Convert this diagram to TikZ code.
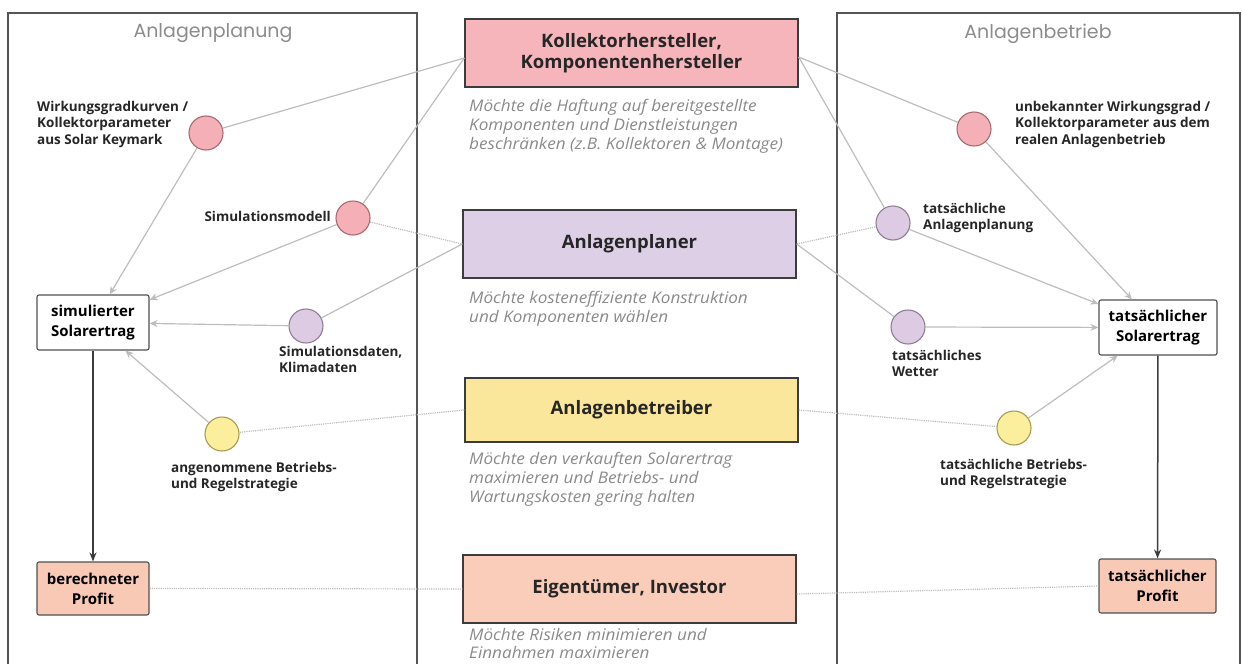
\documentclass[tikz,border=0pt]{standalone}
\usepackage{fontspec}
\setmainfont{Open Sans}
\newfontfamily\titlefont{Poppins}
\newfontfamily\descfont[FakeStretch=1.07]{Open Sans}
\usetikzlibrary{arrows.meta}
\definecolor{framec}{HTML}{555555}
\definecolor{linec}{HTML}{BDBDBD}
\definecolor{darkc}{HTML}{3C3C3C}
\definecolor{descc}{HTML}{8A8A8A}
\definecolor{titlec}{HTML}{8C8C8C}
\definecolor{labc}{HTML}{262626}
\definecolor{kfill}{HTML}{F6B5BA}
\definecolor{pfill}{HTML}{DDD0E6}
\definecolor{bfill}{HTML}{FBE79C}
\definecolor{efill}{HTML}{F9CDBA}
\definecolor{pinkfill}{HTML}{F4B0B6}
\definecolor{pinkdraw}{HTML}{A86A72}
\definecolor{lavfill}{HTML}{DCCBE3}
\definecolor{lavdraw}{HTML}{8F7E96}
\definecolor{yelfill}{HTML}{FBEE9C}
\definecolor{yeldraw}{HTML}{A89A50}
\definecolor{proffill}{HTML}{F8C9B5}
\tikzset{
  actor/.style={draw=darkc, line width=1.4pt, minimum width=333pt, minimum height=68pt, inner sep=0pt, align=center, font=\fontsize{18.5}{21}\selectfont\bfseries, text=black!85},
  desc/.style={anchor=north west, inner sep=0pt, align=left, text=descc, font=\descfont\fontsize{16}{19}\selectfont\itshape},
  res/.style={draw=darkc!90, line width=1.1pt, rounded corners=2pt, minimum width=112pt, minimum height=55pt, inner sep=0pt, align=center, font=\fontsize{15}{20}\selectfont\bfseries, text=black},
  dot/.style={circle, line width=1.1pt, minimum size=34pt, inner sep=0pt},
  lab/.style={inner sep=0pt, align=left, text=labc, font=\fontsize{13.5}{16.5}\selectfont\bfseries},
  conn/.style={draw=linec, line width=1.2pt},
  dconn/.style={draw=linec, line width=1.2pt, densely dotted},
  arr/.style={draw=linec, line width=1.2pt, -{Stealth[length=8pt,width=7pt]}},
  darr/.style={draw=darkc, line width=1.5pt, -{Stealth[length=9pt,width=7pt]}},
  framebox/.style={draw=framec, line width=2pt},
  ftitle/.style={text=titlec, font=\titlefont\fontsize{19}{22}\selectfont, inner sep=0pt}
}
\begin{document}
\begin{tikzpicture}[x=1pt,y=-1pt]
\useasboundingbox (0,0) rectangle (1243,664);
% frames
\draw[framebox] (8,672) -- (8,13) -- (417,13) -- (417,672);
\draw[framebox] (837,672) -- (837,13) -- (1240,13) -- (1240,672);
\node[ftitle] (tl) at (213,33) {Anlagenplanung};
\node[ftitle] (tr) at (1038,34) {Anlagenbetrieb};
% actors
\node[actor, fill=kfill] (k) at (631.5,53) {Kollektorhersteller,\\Komponentenhersteller};
\node[desc] (kd) at (469,99) {Möchte die Haftung auf bereitgestellte\\Komponenten und Dienstleistungen\\beschränken (z.B. Kollektoren \& Montage)};
\node[actor, fill=pfill] (p) at (629.5,244) {Anlagenplaner};
\node[desc] (pd) at (469,291) {Möchte kosteneffiziente Konstruktion\\und Komponenten wählen};
\node[actor, fill=bfill, minimum height=64pt] (b) at (631.5,410) {Anlagenbetreiber};
\node[desc] (bd) at (469,452) {Möchte den verkauften Solarertrag\\maximieren und Betriebs- und\\Wartungskosten gering halten};
\node[actor, fill=efill] (e) at (629.5,589) {Eigentümer, Investor};
\node[desc, font=\descfont\fontsize{16}{18}\selectfont\itshape] (ed) at (469,628) {Möchte Risiken minimieren und\\Einnahmen maximieren};
% result boxes
\node[res, fill=white] (sim) at (93,322.5) {simulierter\\Solarertrag};
\node[res, fill=proffill, minimum height=53pt] (bp) at (93,588.5) {berechneter\\Profit};
\node[res, fill=white, minimum width=118pt] (ts) at (1158,327.5) {tatsächlicher\\Solarertrag};
\node[res, fill=proffill, minimum width=117pt, minimum height=54pt] (tp) at (1157.5,586) {tatsächlicher\\Profit};
% circles
\node[dot, fill=pinkfill, draw=pinkdraw] (c1) at (206,133) {};
\node[dot, fill=pinkfill, draw=pinkdraw] (c2) at (353,218) {};
\node[dot, fill=lavfill, draw=lavdraw] (c3) at (306,326) {};
\node[dot, fill=yelfill, draw=yeldraw] (c4) at (222,434) {};
\node[dot, fill=pinkfill, draw=pinkdraw] (d1) at (974,129) {};
\node[dot, fill=lavfill, draw=lavdraw] (d2) at (893,223) {};
\node[dot, fill=lavfill, draw=lavdraw] (d3) at (908,327) {};
\node[dot, fill=yelfill, draw=yeldraw] (d4) at (1014,428) {};
% labels
\node[lab, anchor=north west] (l1) at (37,101) {Wirkungsgradkurven /\\Kollektorparameter\\aus Solar Keymark};
\node[lab, anchor=east] (l2) at (331,216) {Simulationsmodell};
\node[lab, anchor=north west] (l3) at (279,346) {Simulationsdaten,\\Klimadaten};
\node[lab, anchor=north west] (l4) at (171,462) {angenommene Betriebs-\\und Regelstrategie};
\node[lab, anchor=north west] (r1) at (1015,101) {unbekannter Wirkungsgrad /\\Kollektorparameter aus dem\\realen Anlagenbetrieb};
\node[lab, anchor=north west] (r2) at (923,203) {tatsächliche\\Anlagenplanung};
\node[lab, anchor=north west] (r3) at (892,350) {tatsächliches\\Wetter};
\node[lab, anchor=north west] (r4) at (940,459) {tatsächliche Betriebs-\\und Regelstrategie};
% connectors left
\draw[conn] ([yshift=-5pt]k.west) -- (c1);
\draw[conn] ([yshift=-5pt]k.west) -- (c2);
\draw[dconn] (c2) -- (p.west);
\draw[conn] (p.west) -- (c3);
\draw[dconn] (b.west) -- (c4);
\draw[dconn] (bp.east) -- (e.west);
\draw[arr] (c1) -- (sim);
\draw[arr] (c2) -- (sim);
\draw[arr] (c3) -- (sim);
\draw[arr] (c4) -- (sim);
\draw[darr] (sim) -- (bp);
% connectors right
\draw[conn] ([yshift=-4pt]k.east) -- (d1);
\draw[conn] ([yshift=-4pt]k.east) -- (d2);
\draw[dconn] (p.east) -- (d2);
\draw[conn] (p.east) -- (d3);
\draw[dconn] (b.east) -- (d4);
\draw[dconn] ([yshift=-5pt]e.east) -- (tp.west);
\draw[arr] (d1) -- (ts);
\draw[arr] (d2) -- (ts);
\draw[arr] (d3) -- (ts);
\draw[arr] (d4) -- (ts);
\draw[darr] (ts) -- (tp);
\end{tikzpicture}
\end{document}
